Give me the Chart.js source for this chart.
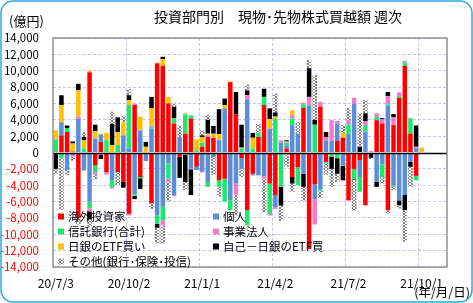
<!DOCTYPE html>
<html><head><meta charset="utf-8">
<script src="https://cdn.jsdelivr.net/npm/chart.js@4.4.1/dist/chart.umd.min.js"></script>
<style>html,body{margin:0;padding:0;background:#fff;}canvas{display:block;}</style>
</head><body>
<canvas id="c" width="473" height="303"></canvas>
<script>
const categories = ["20/7/3","20/7/10","20/7/17","20/7/24","20/7/31","20/8/7","20/8/14","20/8/21","20/8/28","20/9/4","20/9/11","20/9/18","20/9/25",
"20/10/2","20/10/9","20/10/16","20/10/23","20/10/30","20/11/6","20/11/13","20/11/20","20/11/27","20/12/4","20/12/11","20/12/18","20/12/25",
"21/1/1","21/1/8","21/1/15","21/1/22","21/1/29","21/2/5","21/2/12","21/2/19","21/2/26","21/3/5","21/3/12","21/3/19","21/3/26",
"21/4/2","21/4/9","21/4/16","21/4/23","21/4/30","21/5/7","21/5/14","21/5/21","21/5/28","21/6/4","21/6/11","21/6/18","21/6/25",
"21/7/2","21/7/9","21/7/16","21/7/23","21/7/30","21/8/6","21/8/13","21/8/20","21/8/27","21/9/3","21/9/10","21/9/17","21/9/24",
"21/10/1","21/10/8","21/10/15","21/10/22","21/10/29"];
const tickLabels = ["20/7/3","20/10/2","21/1/1","21/4/2","21/7/2","21/10/1"];
const yTicks = [-14000,-12000,-10000,-8000,-6000,-4000,-2000,0,2000,4000,6000,8000,10000,12000,14000];

// 億円
const foreignInvestors = [-200,2100,2500,100,-8000,0,9800,-1600,1300,-2400,0,-2400,-3600,-7500,5800,-3000,0,-6200,10900,10600,6000,3550,-500,2300,4150,-1750,700,1900,1800,-3400,-3200,8600,4700,-700,-7050,-2600,1900,5800,-3800,-5200,0,500,-3000,-1800,5450,-11800,-3900,5600,-1150,0,1400,1800,-5850,-2000,-950,-6450,0,3950,3550,-7050,3350,6700,10600,2300,-2850,0];
const individuals = [0,1600,-2150,-300,4100,-2200,-6000,1700,900,0,-3400,0,2100,500,-5100,2700,-1050,2900,-7700,-6650,-1350,-5200,1900,0,-1950,-400,-2350,-3600,-550,1500,5400,-5850,-3800,-1300,6500,-200,-2800,-2900,2900,-1500,1200,300,3350,2300,-2600,5700,-1800,-4500,1500,1400,2150,-1550,2250,6000,-2050,2550,100,-3600,-1450,5700,-4000,-5850,-5200,-1150,500,0];
const trustBanks = [1600,-700,500,0,0,500,-800,-800,0,1500,-800,900,0,5300,-200,-150,0,200,-1000,-1650,-1850,650,0,2350,400,300,500,-600,0,-800,-2800,-1200,0,500,-1850,500,500,1000,-3700,4100,-4200,400,800,-2200,450,100,3400,-200,-100,-500,-700,-100,1200,-1200,-1800,800,0,400,-1550,200,-200,200,400,1850,-550,0];
const corporations = [100,0,0,-200,300,0,-400,-300,-300,-300,-200,0,0,-200,200,100,0,200,0,-600,-400,-150,0,-250,-100,0,-100,200,0,100,0,0,-1350,0,500,0,0,-300,-200,-200,300,150,400,0,200,1000,-3100,600,400,2550,300,0,500,700,0,500,100,450,550,1000,950,450,200,100,200,0];
const bojEtf = [1000,2100,0,1000,3200,1000,200,900,100,900,900,1600,1600,600,0,1600,700,2100,100,800,800,0,0,150,0,1300,700,200,500,650,400,100,0,100,0,1300,0,0,1200,300,0,0,600,0,0,0,0,0,0,0,0,600,0,0,0,0,0,0,0,0,0,0,0,0,0,600];
const proprietary = [-1800,1200,300,250,800,400,-1000,800,-500,0,2600,1800,-700,600,-400,-1300,600,1400,-500,300,0,1400,-2600,-3350,-3150,0,200,1700,950,3050,800,0,2700,2800,600,600,0,1000,1300,500,-2300,150,-800,0,-1600,3500,600,0,600,-1500,-1900,-1750,0,-100,700,950,-650,-600,100,500,400,-600,-1850,-600,2600,0];
const others = [-600,-6300,-600,-500,-800,600,-800,-600,0,0,1500,-1600,800,750,0,0,0,-700,-1900,-2200,-2400,400,1400,-1000,0,0,600,600,-2200,-1200,0,0,-2550,-1000,700,0,1100,-4100,0,2300,-1850,-1750,-1000,1400,-1700,1000,5500,-800,-1500,-2200,-1000,950,1500,-3800,4100,1600,-150,0,-800,-400,-400,-400,-3850,-2450,0,0];

const FONT = "'Noto Sans CJK JP','Liberation Sans',sans-serif";
const GRID = 'rgba(150,150,240,0.55)';

function makePattern(){
  const c = document.createElement('canvas'); c.width = 4; c.height = 3;
  const g = c.getContext('2d');
  g.fillStyle = '#ffffff'; g.fillRect(0,0,4,3);
  g.fillStyle = '#808080';
  g.fillRect(0,0,1,2); g.fillRect(3,0,1,2); g.fillRect(1,2,2,1);
  return g.createPattern(c,'repeat');
}
const pat = makePattern();

const seriesDefs = [
  ['海外投資家', foreignInvestors, '#FF0000'],
  ['個人', individuals, '#5B8ED6'],
  ['信託銀行(合計)', trustBanks, '#1EE86C'],
  ['事業法人', corporations, '#F57BC8'],
  ['日銀のETF買い', bojEtf, '#FFC000'],
  ['自己－日銀のETF買', proprietary, '#000000'],
  ['その他(銀行･保険･投信)', others, pat]
];

const datasets = seriesDefs.map(([label, data, color]) => ({
  label, data, backgroundColor: color, borderWidth: 0,
  barPercentage: 0.8, categoryPercentage: 1.0
}));

const decor = {
  id: 'decor',
  beforeDraw(chart){
    const ctx = chart.ctx;
    ctx.save();
    ctx.fillStyle = '#fff'; ctx.fillRect(0,0,473,303);
    ctx.restore();
  },
  afterDatasetsDraw(chart){
    const ctx = chart.ctx, a = chart.chartArea, y = chart.scales.y;
    ctx.save();
    const y0 = Math.round(y.getPixelForValue(0)) + 0.5;
    ctx.strokeStyle = '#000'; ctx.lineWidth = 1.3;
    ctx.beginPath(); ctx.moveTo(a.left, y0); ctx.lineTo(a.right, y0); ctx.stroke();
    ctx.strokeStyle = '#808080'; ctx.lineWidth = 1.3;
    ctx.strokeRect(a.left, a.top, a.right - a.left, a.bottom - a.top);
    ctx.font = '11.5px ' + FONT; ctx.textBaseline = 'middle'; ctx.textAlign = 'left';
    const cols = [58, 213], rows = [216.5, 231.5, 246.5, 261.5];
    seriesDefs.forEach(([label, , color], i) => {
      const cx = cols[i % 2], cy = rows[Math.floor(i / 2)];
      ctx.fillStyle = color; ctx.fillRect(cx, cy - 3, 6, 6);
      ctx.fillStyle = '#000'; ctx.fillText(label, cx + 10, cy + 0.5);
    });
    ctx.restore();
  },
  afterDraw(chart){
    const ctx = chart.ctx;
    ctx.save();
    ctx.fillStyle = '#000'; ctx.textBaseline = 'middle';
    ctx.font = '14px ' + FONT; ctx.textAlign = 'center';
    ctx.fillText('投資部門別　現物･先物株式買越額 週次', 278, 17);
    ctx.font = '13px ' + FONT; ctx.textAlign = 'left';
    ctx.fillText('(億円)', 9, 21);
    ctx.font = '12.5px ' + FONT; ctx.textAlign = 'right';
    ctx.fillText('(年/月/日)', 470, 292);
    ctx.strokeStyle = '#2EA9DF'; ctx.lineWidth = 1.5;
    const r = 12, x0 = 1, yy0 = 1, x1 = 472, y1 = 302;
    ctx.beginPath();
    ctx.moveTo(x0 + r, yy0); ctx.lineTo(x1 - r, yy0); ctx.arcTo(x1, yy0, x1, yy0 + r, r);
    ctx.lineTo(x1, y1 - r); ctx.arcTo(x1, y1, x1 - r, y1, r);
    ctx.lineTo(x0 + r, y1); ctx.arcTo(x0, y1, x0, y1 - r, r);
    ctx.lineTo(x0, yy0 + r); ctx.arcTo(x0, yy0, x0 + r, yy0, r);
    ctx.closePath(); ctx.stroke();
    ctx.restore();
  }
};

new Chart(document.getElementById('c'), {
  type: 'bar',
  data: { labels: categories, datasets },
  options: {
    responsive: false, devicePixelRatio: 1, animation: false,
    layout: { padding: { top: 38, right: 26, left: 0, bottom: 0 } },
    plugins: { legend: { display: false }, title: { display: false }, tooltip: { enabled: false } },
    scales: {
      x: {
        stacked: true, offset: true,
        grid: { offset: true, drawTicks: false, lineWidth: 1,
          color: c => (c.index > 0 && c.index % 13 === 0 && c.index < categories.length) ? GRID : 'rgba(0,0,0,0)' },
        border: { display: false, dash: [3, 2] },
        ticks: { autoSkip: false, maxRotation: 0, minRotation: 0, padding: 9, color: '#000',
          font: { family: FONT, size: 12 },
          callback: (v, i) => tickLabels.includes(categories[i]) ? categories[i] : '' },
        afterFit: s => { s.height = 36; }
      },
      y: {
        stacked: true, min: yTicks[0], max: yTicks[yTicks.length - 1],
        afterBuildTicks: s => { s.ticks = yTicks.map(v => ({ value: v })); },
        grid: { drawTicks: false, lineWidth: 1,
          color: c => (c.tick && c.tick.value === 0) ? 'rgba(0,0,0,0)' : GRID },
        border: { display: false, dash: [3, 2] },
        ticks: { autoSkip: false, padding: 14, font: { family: FONT, size: 11.5 },
          color: c => c.tick.value < 0 ? '#FF0000' : '#000',
          callback: v => Number(v).toLocaleString('en-US') },
        afterFit: s => { s.width = 53; }
      }
    }
  },
  plugins: [decor]
});
</script>
</body></html>
